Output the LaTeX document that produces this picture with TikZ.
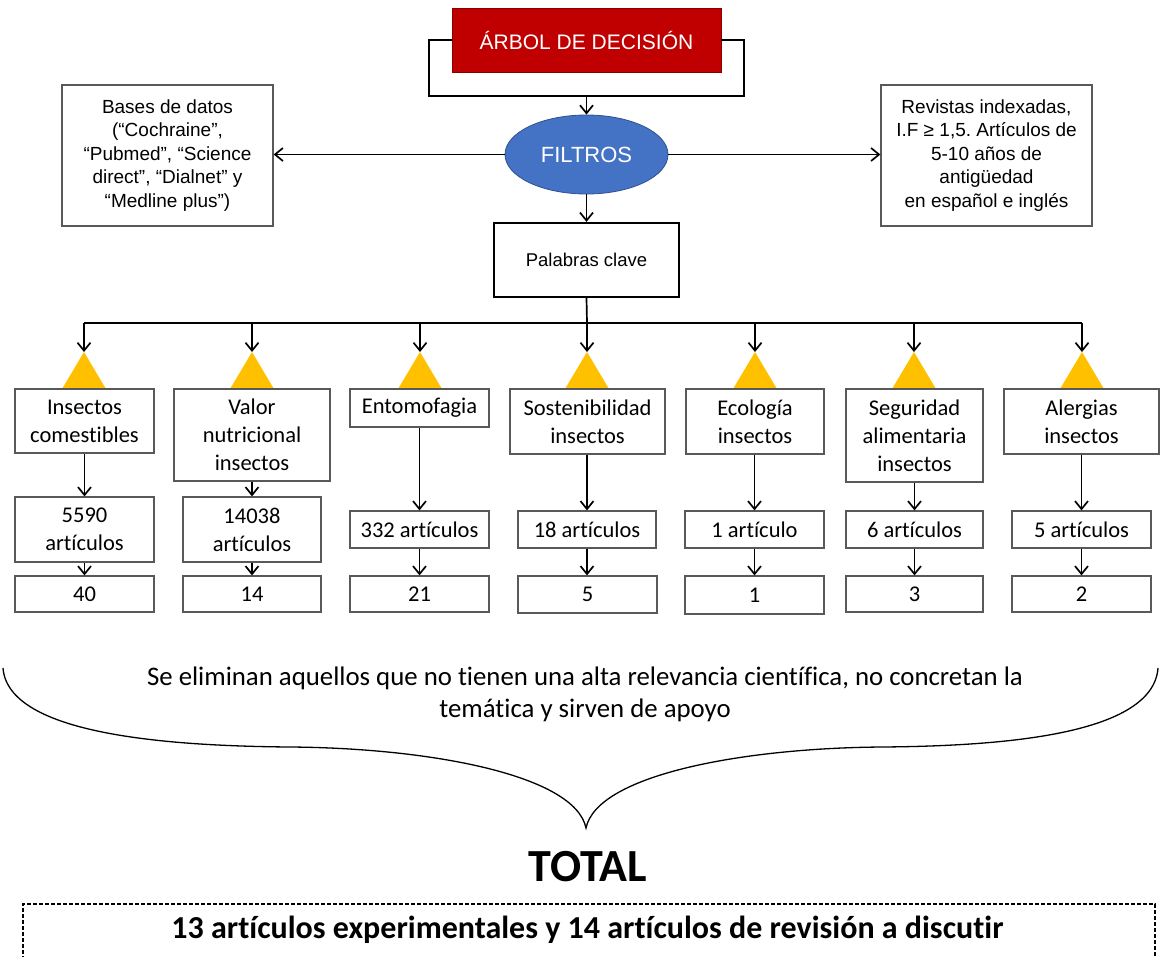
\documentclass[tikz,border=0pt]{standalone}
\usepackage{fontspec}
\setmainfont{Liberation Sans}
\newfontfamily\calib[Ligatures=NoCommon]{Carlito}
\usetikzlibrary{arrows.meta,shapes.geometric}
\definecolor{treered}{HTML}{C00000}
\definecolor{filterblue}{HTML}{4472C4}
\definecolor{filteredge}{HTML}{2F528F}
\definecolor{warnyellow}{HTML}{FFC000}
\definecolor{boxgray}{HTML}{595959}
\frenchspacing
\tikzset{
  link/.style={line width=1.7pt, black},
  arr/.style={link, -{Straight Barb[length=8pt,width=13pt]}},
  topbox/.style={draw=boxgray, line width=1.2pt, fill=white, align=center, inner sep=0pt,
    font=\fontsize{19}{23.5}\selectfont},
  catbox/.style={draw=boxgray, line width=1.2pt, fill=white, align=center, inner sep=0pt,
    font=\calib\fontsize{22.5}{28}\selectfont},
  tri/.style={fill=warnyellow},
}
\begin{document}
\begin{tikzpicture}[x=1pt,y=-1pt]
\useasboundingbox (0,0) rectangle (1161,956);

% title and filter stage
\node[fill=treered, draw=treered!70!black, line width=0.8pt, text=white, inner sep=0pt,
      minimum width=269pt, minimum height=64pt, font=\fontsize{21}{25}\selectfont]
  (arbol) at (586.5,40) {ÁRBOL DE DECISIÓN};
\coordinate (bl) at (429,40);
\coordinate (blb) at (429,96);
\coordinate (bm) at (586.5,96);
\coordinate (brb) at (744,96);
\coordinate (br) at (744,40);
\draw[link] (arbol.west) -- (bl) -- (blb) -- (brb) -- (br) -- (arbol.east);

\node[ellipse, fill=filterblue, draw=filteredge, line width=0.8pt, text=white, inner sep=0pt,
      minimum width=163pt, minimum height=79pt, font=\fontsize{22}{26}\selectfont]
  (filtros) at (586.5,154.5) {FILTROS};
\draw[arr] (bm) -- (filtros.north);

\node[topbox, minimum width=211pt, minimum height=141pt] (bases) at (167.5,155.5)
  {Bases de datos\\(“Cochraine”,\\“Pubmed”, “Science\\direct”, “Dialnet” y\\“Medline plus”)};
\node[topbox, minimum width=211pt, minimum height=141pt] (revistas) at (986.5,155.5)
  {Revistas indexadas,\\I.F ≥ 1,5. Artículos de\\5-10 años de\\antigüedad\\en español e inglés};
\draw[arr] (filtros.west) -- (filtros.west -| bases.east);
\draw[arr] (filtros.east) -- (filtros.east -| revistas.west);

\node[draw=black, line width=2.2pt, fill=white, inner sep=0pt,
      minimum width=185pt, minimum height=74pt, font=\fontsize{18.5}{22}\selectfont]
  (pc) at (586.5,260) {Palabras clave};
\draw[arr] (filtros.south) -- (pc.north);

% distribution bus and warning triangles
\foreach \i/\x in {1/84,2/252,3/420,4/587,5/755,6/914,7/1082}{
  \coordinate (b\i) at (\x,323);
  \coordinate (t\i) at (\x,352);
  \fill[tri] (t\i) -- ++(22,37) -- ++(-44,0) -- cycle;
}
\draw[link] (b1) -- (b7);
\draw[link] (pc.south) -- (b4);
\foreach \i in {1,...,7}{ \draw[arr] (b\i) -- (t\i); }

% search terms
\node[catbox, minimum width=139pt, minimum height=64pt] (c1) at (84.5,421) {Insectos\\comestibles};
\node[catbox, minimum width=156pt, minimum height=92pt] (c2) at (252,435) {Valor\\nutricional\\insectos};
\node[catbox, minimum width=139pt, minimum height=38pt] (c3) at (419.5,408) {Entomofagia};
\node[catbox, minimum width=155pt, minimum height=65pt] (c4) at (587.5,421.5) {Sostenibilidad\\insectos};
\node[catbox, minimum width=138pt, minimum height=65pt] (c5) at (755,421.5) {Ecología\\insectos};
\node[catbox, minimum width=137pt, minimum height=93pt] (c6) at (914.5,435.5) {Seguridad\\alimentaria\\insectos};
\node[catbox, minimum width=155pt, minimum height=65pt] (c7) at (1081.5,421.5) {Alergias\\insectos};

% articles found
\node[catbox, minimum width=139pt, minimum height=65pt] (n1) at (84.5,529.5) {5590\\artículos};
\node[catbox, minimum width=138pt, minimum height=65pt] (n2) at (252,529.5) {14038\\artículos};
\node[catbox, minimum width=139pt, minimum height=37pt] (n3) at (419.5,529.5) {332 artículos};
\node[catbox, minimum width=138pt, minimum height=37pt] (n4) at (587,529.5) {18 artículos};
\node[catbox, minimum width=139pt, minimum height=37pt] (n5) at (754.5,529.5) {1 artículo};
\node[catbox, minimum width=137pt, minimum height=37pt] (n6) at (914.5,529.5) {6 artículos};
\node[catbox, minimum width=139pt, minimum height=37pt] (n7) at (1081.5,529.5) {5 artículos};

% articles kept
\node[catbox, minimum width=139pt, minimum height=36pt] (f1) at (84.5,594) {40};
\node[catbox, minimum width=138pt, minimum height=36pt] (f2) at (252,594) {14};
\node[catbox, minimum width=139pt, minimum height=36pt] (f3) at (419.5,594) {21};
\node[catbox, minimum width=139pt, minimum height=37pt] (f4) at (587.5,594.5) {5};
\node[catbox, minimum width=139pt, minimum height=38pt] (f5) at (754.5,595) {1};
\node[catbox, minimum width=137pt, minimum height=36pt] (f6) at (914.5,594) {3};
\node[catbox, minimum width=139pt, minimum height=36pt] (f7) at (1081.5,594) {2};

\foreach \i in {1,...,7}{
  \draw[arr] (c\i.south -| n\i.north) -- (n\i.north);
  \draw[arr] (n\i.south) -- (n\i.south |- f\i.north);
}

% summary brace
\draw[line width=1.3pt] (3,668) .. controls (8,735) and (170,746) .. (290,747)
  .. controls (430,748) and (575,775) .. (586,828)
  .. controls (597,775) and (742,748) .. (882,747)
  .. controls (1002,746) and (1153,735) .. (1158,668);
\node[align=center, inner sep=0pt, font=\calib\fontsize{26.8}{32}\selectfont] (nota) at (585,694)
  {Se eliminan aquellos que no tienen una alta relevancia científica, no concretan la\\temática y sirven de apoyo};

\node[inner sep=0pt, font=\calib\bfseries\fontsize{46}{50}\selectfont] (total) at (587.5,867) {TOTAL};
\coordinate (dl) at (23,960);
\coordinate (dtl) at (23,904);
\coordinate (dtr) at (1155,904);
\coordinate (dr) at (1155,960);
\draw[line width=1.2pt, dash pattern=on 4pt off 2pt] (dl) -- (dtl) -- (dtr) -- (dr);
\node[inner sep=0pt, font=\calib\bfseries\fontsize{32}{36}\selectfont] (resumen) at (587.5,930)
  {13 artículos experimentales y 14 artículos de revisión a discutir};
\end{tikzpicture}
\end{document}
